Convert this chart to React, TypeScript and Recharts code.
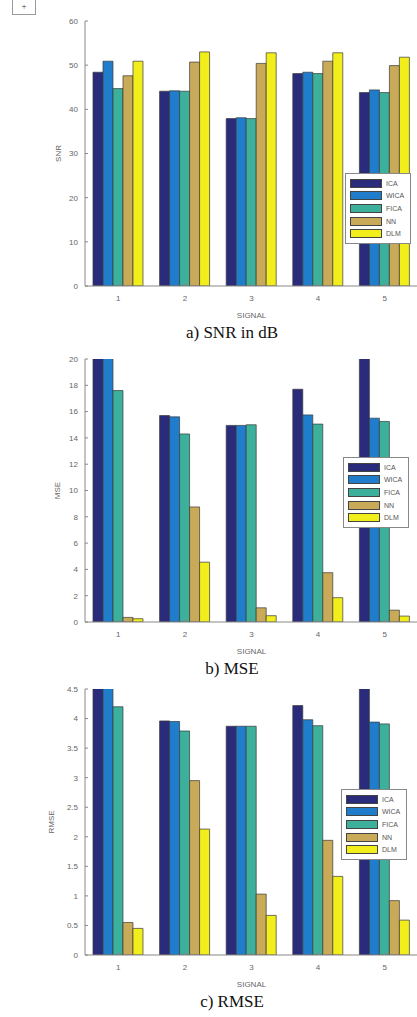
import { BarChart, Bar, XAxis, YAxis } from "recharts";

const signals = ["1", "2", "3", "4", "5"];
const methods = ["ICA", "WICA", "FICA", "NN", "DLM"];
const colors = ["#2b2b7c", "#1f7dcb", "#3cb09a", "#c8aa58", "#f2ee1c"];

// rows: signal 1..5, cols: ICA, WICA, FICA, NN, DLM
const snr = [
  [48.4, 50.9, 44.7, 47.6, 50.9],
  [44.1, 44.2, 44.1, 50.7, 53.0],
  [37.9, 38.1, 37.9, 50.4, 52.8],
  [48.1, 48.4, 48.1, 50.9, 52.8],
  [43.8, 44.4, 43.8, 49.9, 51.8],
];
const mse = [
  [21.5, 21.0, 17.6, 0.35, 0.25],
  [15.7, 15.6, 14.3, 8.75, 4.55],
  [14.95, 14.95, 15.0, 1.08, 0.48],
  [17.7, 15.75, 15.05, 3.75, 1.85],
  [21.0, 15.5, 15.25, 0.9, 0.45],
];
const rmse = [
  [4.64, 4.58, 4.2, 0.55, 0.45],
  [3.96, 3.95, 3.79, 2.95, 2.13],
  [3.87, 3.87, 3.87, 1.03, 0.67],
  [4.22, 3.98, 3.88, 1.94, 1.33],
  [4.58, 3.94, 3.91, 0.92, 0.59],
];

const snrTicks = [0, 10, 20, 30, 40, 50, 60];
const mseTicks = [0, 2, 4, 6, 8, 10, 12, 14, 16, 18, 20];
const rmseTicks = [0, 0.5, 1, 1.5, 2, 2.5, 3, 3.5, 4, 4.5];

function toRows(values: number[][]) {
  return signals.map((s, i) => {
    const row: Record<string, string | number> = { signal: s };
    methods.forEach((m, j) => (row[m] = values[i][j]));
    return row;
  });
}

const axisFont = { fontSize: 8, fill: "#666", fontFamily: "Liberation Sans, Arial, sans-serif" };

function Legend({ left, top }: { left: number; top: number }) {
  return (
    <div
      style={{
        position: "absolute",
        left,
        top,
        width: 66,
        background: "#fff",
        border: "1px solid #888",
        padding: "3px 0 3px 4px",
        boxSizing: "border-box",
      }}
    >
      {methods.map((m, i) => (
        <div key={m} style={{ display: "flex", alignItems: "center", height: 12.6 }}>
          <div
            style={{
              width: 30,
              height: 7,
              background: colors[i],
              border: "1px solid #444",
              marginRight: 4,
            }}
          />
          <span style={{ ...axisFont, color: "#555", fontSize: 7 }}>{m}</span>
        </div>
      ))}
    </div>
  );
}

interface PanelProps {
  top: number;
  plotTop: number;
  plotBottom: number;
  values: number[][];
  ticks: number[];
  yLabel: string;
  caption: string;
  legendLeft: number;
  legendTop: number;
  labelX: number;
}

function Panel(p: PanelProps) {
  const height = p.plotBottom - p.top + 34;
  const data = toRows(p.values);
  const max = p.ticks[p.ticks.length - 1];
  return (
    <>
      <div style={{ position: "absolute", left: 0, top: p.top, width: 417, height, overflow: "hidden" }}>
        <BarChart
          width={440}
          height={height}
          data={data}
          margin={{ top: p.plotTop - p.top, right: 22, left: 0, bottom: 0 }}
          barGap={0}
          barCategoryGap="12%"
        >
          <XAxis
            dataKey="signal"
            tick={axisFont}
            tickSize={-3}
            tickMargin={12}
            stroke="#888"
            height={34}
            label={{ value: "SIGNAL", position: "insideBottom", offset: 2, ...axisFont }}
          />
          <XAxis
            xAxisId="top"
            dataKey="signal"
            orientation="top"
            tick={{ fill: "none" }}
            tickSize={-3}
            stroke="#888"
            height={0}
          />
          <YAxis
            width={85}
            domain={[0, max]}
            ticks={p.ticks}
            allowDataOverflow
            tick={axisFont}
            tickSize={-3}
            tickMargin={10}
            stroke="#888"
            interval={0}
            label={{
              value: p.yLabel,
              angle: -90,
              position: "insideLeft",
              offset: p.labelX,
              ...axisFont,
              style: { textAnchor: "middle" },
            }}
          />
          {methods.map((m, i) => (
            <Bar
              key={m}
              dataKey={m}
              fill={colors[i]}
              stroke="#3a3a3a"
              strokeWidth={0.7}
              isAnimationActive={false}
            />
          ))}
        </BarChart>
        <Legend left={p.legendLeft} top={p.legendTop - p.top} />
      </div>
      <div
        style={{
          position: "absolute",
          left: 0,
          width: 464,
          top: p.plotBottom + 37,
          textAlign: "center",
          fontFamily: "Liberation Serif, Times New Roman, serif",
          fontSize: 17,
          color: "#111",
        }}
      >
        {p.caption}
      </div>
    </>
  );
}

export default function App() {
  return (
    <div style={{ position: "absolute", left: 0, top: 0, width: 417, height: 1017, background: "#fff", overflow: "hidden" }}>
      <div
        style={{
          position: "absolute",
          left: 12,
          top: -2,
          width: 24,
          height: 17,
          border: "1px solid #999",
          boxSizing: "border-box",
          fontSize: 9,
          lineHeight: "14px",
          textAlign: "center",
          color: "#333",
        }}
      >
        +
      </div>
      <Panel
        top={0}
        plotTop={21}
        plotBottom={286}
        values={snr}
        ticks={snrTicks}
        yLabel="SNR"
        caption="a) SNR in dB"
        legendLeft={345}
        legendTop={173}
        labelX={58}
      />
      <Panel
        top={340}
        plotTop={359}
        plotBottom={622}
        values={mse}
        ticks={mseTicks}
        yLabel="MSE"
        caption="b) MSE"
        legendLeft={343}
        legendTop={457}
        labelX={57}
      />
      <Panel
        top={670}
        plotTop={689}
        plotBottom={955}
        values={rmse}
        ticks={rmseTicks}
        yLabel="RMSE"
        caption="c) RMSE"
        legendLeft={341}
        legendTop={789}
        labelX={51}
      />
    </div>
  );
}
